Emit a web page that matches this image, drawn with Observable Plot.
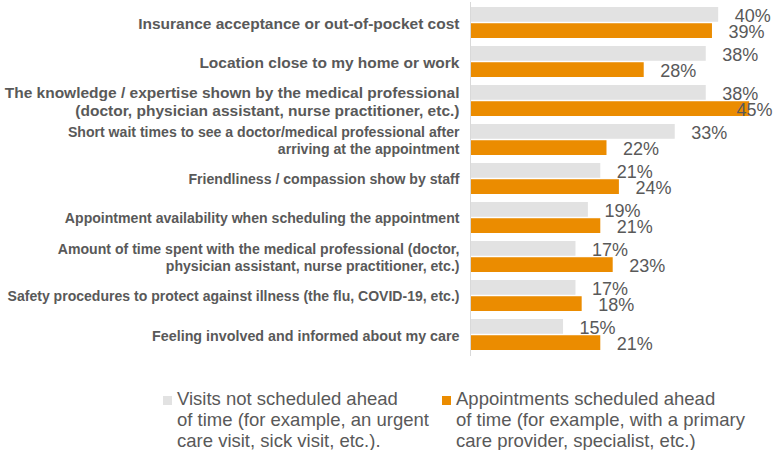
<!DOCTYPE html>
<html>
<head>
<meta charset="utf-8">
<script src="https://cdn.jsdelivr.net/npm/d3@7"></script>
<script src="https://cdn.jsdelivr.net/npm/@observablehq/plot@0.6"></script>
<style>
  body { margin: 0; background: #fff; font-family: "Liberation Sans", Arial, sans-serif; }
  #wrap { width: 774px; height: 450px; position: relative; overflow: hidden; }
  #legend { display: flex; padding-left: 163px; padding-top: 17.5px; font-size: 18.5px; line-height: 21px; color: #595959; }
  .item { display: flex; align-items: flex-start; }
  .item1 { width: 279px; }
  .sw { width: 9px; height: 9px; margin-top: 8px; margin-right: 5px; flex: none; }
</style>
</head>
<body>
<div id="wrap">
  <div id="chart"></div>
  <div id="legend"></div>
</div>
<script>
const categories = [
  "Insurance acceptance or out-of-pocket cost",
  "Location close to my home or work",
  "The knowledge / expertise shown by the medical professional\n(doctor, physician assistant, nurse practitioner, etc.)",
  "Short wait times to see a doctor/medical professional after\narriving at the appointment",
  "Friendliness / compassion show by staff",
  "Appointment availability when scheduling the appointment",
  "Amount of time spent with the medical professional (doctor,\nphysician assistant, nurse practitioner, etc.)",
  "Safety procedures to protect against illness (the flu, COVID-19, etc.)",
  "Feeling involved and informed about my care"
];
const visitsNotScheduled = [40, 38, 38, 33, 21, 19, 17, 17, 15];
const appointmentsScheduled = [39, 28, 45, 22, 24, 21, 23, 18, 21];
const seriesLabels = [
  ["Visits not scheduled ahead", "of time (for example, an urgent", "care visit, sick visit, etc.)."],
  ["Appointments scheduled ahead", "of time (for example, with a primary", "care provider, specialist, etc.)"]
];
const seriesColors = ["#e2e2e2", "#eb8c00"];
// label font sizes (styling, per category label as in the source slide)
const labelFontSizes = [15.5, 15.5, 15.5, 14.1, 14.1, 14.1, 14.1, 14.05, 14.3];

const gray = categories.map((c, i) => ({category: c, value: visitsNotScheduled[i]}));
const orange = categories.map((c, i) => ({category: c, value: appointmentsScheduled[i]}));

const W = 774, H = 370, mT = 2, mB = 14;
const step = (H - mT - mB) / categories.length;
const half = step * 0.8 / 2;
const textColor = "#595959";
const fits = d => d.value < 44;

const chart = Plot.plot({
  width: W,
  height: H,
  marginLeft: 470,
  marginRight: 0,
  marginTop: mT,
  marginBottom: mB,
  style: {fontFamily: "'Liberation Sans', Arial, sans-serif", background: "#fff"},
  x: {domain: [0, 49], axis: null},
  y: {domain: categories, paddingInner: 0.2, paddingOuter: 0.1, axis: null},
  marks: [
    Plot.barX(gray, {x: "value", y: "category", fill: seriesColors[0], insetBottom: half + 0.5}),
    Plot.barX(orange, {x: "value", y: "category", fill: seriesColors[1], insetTop: half + 0.5}),
    Plot.ruleX([0], {stroke: "#d9d9d9", strokeWidth: 1}),
    Plot.text(categories, {
      y: d => d, text: d => d, frameAnchor: "left", textAnchor: "end", dx: -11,
      fontSize: (d, i) => labelFontSizes[i], fontWeight: "bold", lineHeight: 1.2, fill: textColor
    }),
    Plot.text(gray.filter(fits), {x: "value", y: "category", text: d => d.value + "%", dx: 16, dy: -half / 2 + 0.7, textAnchor: "start", fontSize: 18, fill: textColor}),
    Plot.text(orange.filter(fits), {x: "value", y: "category", text: d => d.value + "%", dx: 16, dy: half / 2 + 1.7, textAnchor: "start", fontSize: 18, fill: textColor}),
    Plot.text(gray.filter(d => !fits(d)), {y: "category", text: d => d.value + "%", frameAnchor: "right", dx: -2, dy: -half / 2 + 0.7, textAnchor: "end", fontSize: 18, fill: textColor}),
    Plot.text(orange.filter(d => !fits(d)), {y: "category", text: d => d.value + "%", frameAnchor: "right", dx: -2, dy: half / 2 + 1.7, textAnchor: "end", fontSize: 18, fill: textColor})
  ]
});
document.getElementById("chart").appendChild(chart);

const legend = document.getElementById("legend");
seriesLabels.forEach((lines, i) => {
  const item = document.createElement("div");
  item.className = "item" + (i === 0 ? " item1" : "");
  const sw = document.createElement("span");
  sw.className = "sw";
  sw.style.background = seriesColors[i];
  const txt = document.createElement("div");
  lines.forEach((l, j) => {
    if (j) txt.appendChild(document.createElement("br"));
    txt.appendChild(document.createTextNode(l));
  });
  item.appendChild(sw);
  item.appendChild(txt);
  legend.appendChild(item);
});
</script>
</body>
</html>
